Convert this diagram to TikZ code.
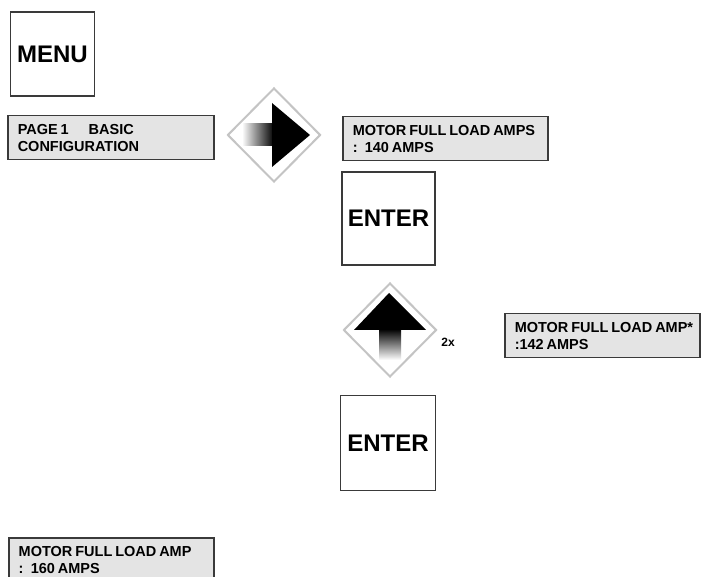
\documentclass[tikz,border=0pt]{standalone}
\usepackage{fontspec}
\setmainfont{Liberation Sans}
\usetikzlibrary{shapes.geometric,calc}
\definecolor{lcdfill}{HTML}{E4E4E4}
\definecolor{edge}{HTML}{3A3A3A}
\definecolor{diaedge}{HTML}{C4C4C4}
\newcommand{\tightspaces}{\spaceskip=0.2em plus 0.05em\relax}
\begin{document}
\begin{tikzpicture}[x=1pt,y=-1pt,
  lcd/.style={draw=edge, line width=1.5pt, fill=lcdfill, rectangle, anchor=north west,
    minimum height=44pt, inner xsep=10pt, inner ysep=0pt, text width=#1, align=left,
    font=\fontsize{14.5}{17}\selectfont\bfseries, execute at begin node=\tightspaces},
  keybox/.style={draw=edge, line width=1.5pt, rectangle, minimum width=#1, minimum height=#1,
    inner sep=0pt, font=\fontsize{24}{24}\selectfont\bfseries},
  dia/.style={diamond, draw=diaedge, line width=2pt, fill=white, minimum width=93pt,
    minimum height=94pt, inner sep=0pt},
  lbl/.style={font=\fontsize{12}{12}\selectfont\bfseries, inner sep=0pt}]
\clip (0,0) rectangle (702,577);
\fill[white] (0,0) rectangle (702,577);

\node[keybox=84pt] (menu) at (52.5,54) {MENU};
\node[lcd=186pt] (page) at (7,115) {PAGE 1\hspace{20pt}BASIC\\CONFIGURATION};

\node[dia] (right) at (274,135) {};
\shade[left color=white, right color=black]
  ($(right)+(-32,-11)$) rectangle ($(right)+(0,11)$);
\fill[black] ($(right)+(-2,-32)$) -- ($(right)+(36,0)$) -- ($(right)+(-2,32)$) -- cycle;

\node[lcd=185pt] (fla1) at (342,116) {MOTOR FULL LOAD AMPS\\: 140 AMPS};
\node[keybox=93pt] (enter1) at (388.5,218.5) {ENTER};

\node[dia] (up) at (390,330) {};
\shade[top color=black, bottom color=white]
  ($(up)+(-11,-1)$) rectangle ($(up)+(11,30)$);
\fill[black] ($(up)+(-36,0)$) -- ($(up)+(-1,-37)$) -- ($(up)+(36,0)$) -- cycle;
\node[lbl] (twox) at (448,342) {2x};

\node[lcd=175pt] (fla2) at (504,313) {\mbox{MOTOR FULL LOAD AMP*}\\\mbox{:142 AMPS}};
\node[keybox=95pt] (enter2) at (388,443) {ENTER};

\node[lcd=185pt] (fla3) at (8,537) {MOTOR FULL LOAD AMP\\: 160 AMPS};
\end{tikzpicture}
\end{document}
